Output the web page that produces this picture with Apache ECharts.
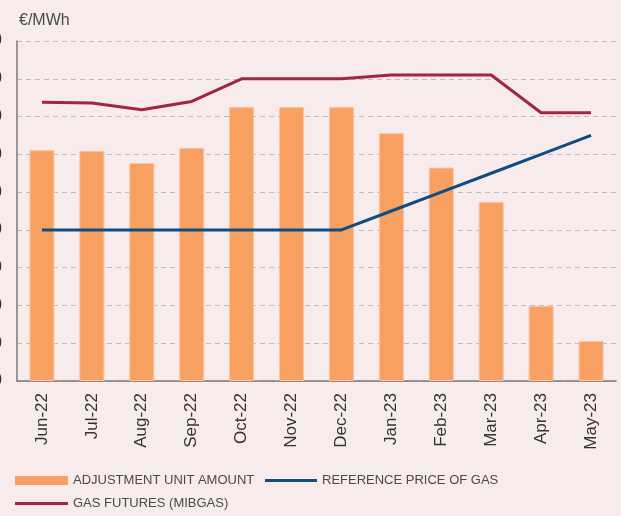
<!DOCTYPE html>
<html><head><meta charset="utf-8">
<script src="https://cdn.jsdelivr.net/npm/echarts@6/dist/echarts.min.js"></script>
<style>html,body{margin:0;padding:0;background:#f7ebeb;}#c{width:621px;height:516px;}</style>
</head><body><div id="c"></div>
<script>
const categories = ['Jun-22','Jul-22','Aug-22','Sep-22','Oct-22','Nov-22','Dec-22','Jan-23','Feb-23','Mar-23','Apr-23','May-23'];
const adjustmentUnitAmount = [61.1, 60.9, 57.7, 61.7, 72.5, 72.5, 72.5, 65.6, 56.5, 47.4, 19.9, 10.6];
const referencePriceOfGas = [40, 40, 40, 40, 40, 40, 40, 45, 50, 55, 60, 65];
const gasFutures = [73.8, 73.6, 71.8, 74.0, 80, 80, 80, 81, 81, 81, 71, 71];
const yTicks = {min: 0, max: 90, interval: 10};
const names = ['ADJUSTMENT UNIT AMOUNT', 'REFERENCE PRICE OF GAS', 'GAS FUTURES (MIBGAS)'];

const legendText = {fontFamily: "'Liberation Sans Narrow','Liberation Sans',Arial,sans-serif", fontSize: 13, color: '#4a4a4a'};
const chart = echarts.init(document.getElementById('c'), null, {renderer: 'canvas'});
chart.setOption({
  backgroundColor: '#f7ebeb',
  animation: false,
  title: {text: '€/MWh', left: 14, top: 8, textStyle: {fontFamily: "'Liberation Sans',Arial,sans-serif", fontSize: 16, fontWeight: 'normal', color: '#4a4a4a'}},
  grid: {left: 17, right: 5, top: 41, bottom: 135, containLabel: false, outerBoundsMode: 'none'},
  legend: [
    {data: [names[0]], left: 15, top: 474, itemWidth: 53, itemHeight: 9, itemGap: 0, icon: 'rect', textStyle: legendText, padding: 0, itemStyle: {borderWidth: 0}},
    {data: [names[1]], left: 265, top: 474, itemWidth: 52, itemHeight: 3, icon: 'rect', textStyle: legendText, padding: 0},
    {data: [names[2]], left: 15, top: 497, itemWidth: 53, itemHeight: 3, icon: 'rect', textStyle: legendText, padding: 0}
  ],
  xAxis: {
    type: 'category', data: categories, boundaryGap: true,
    axisLine: {lineStyle: {color: '#7a7a7a', width: 1.5}},
    axisTick: {show: false},
    axisLabel: {rotate: 90, margin: 12, fontSize: 17, color: '#333', fontFamily: "'Liberation Sans',Arial,sans-serif", interval: 0}
  },
  yAxis: {
    type: 'value', min: yTicks.min, max: yTicks.max, interval: yTicks.interval,
    axisLine: {show: true, lineStyle: {color: '#7a7a7a', width: 1.5}},
    axisTick: {show: false},
    axisLabel: {margin: 15, fontSize: 16, color: '#333', fontFamily: "'Liberation Sans',Arial,sans-serif"},
    splitLine: {lineStyle: {color: '#bdbdbd', type: [5, 4], width: 1}}
  },
  series: [
    {name: names[0], type: 'bar', data: adjustmentUnitAmount, barWidth: 25,
     itemStyle: {color: '#f8a062', borderColor: '#fbc3a0', borderWidth: 1}},
    {name: names[1], type: 'line', data: referencePriceOfGas, showSymbol: false, symbol: 'none',
     lineStyle: {color: '#0f4c81', width: 3}, itemStyle: {color: '#0f4c81'}},
    {name: names[2], type: 'line', data: gasFutures, showSymbol: false, symbol: 'none',
     lineStyle: {color: '#a2263f', width: 3}, itemStyle: {color: '#a2263f'}}
  ]
});
</script></body></html>
